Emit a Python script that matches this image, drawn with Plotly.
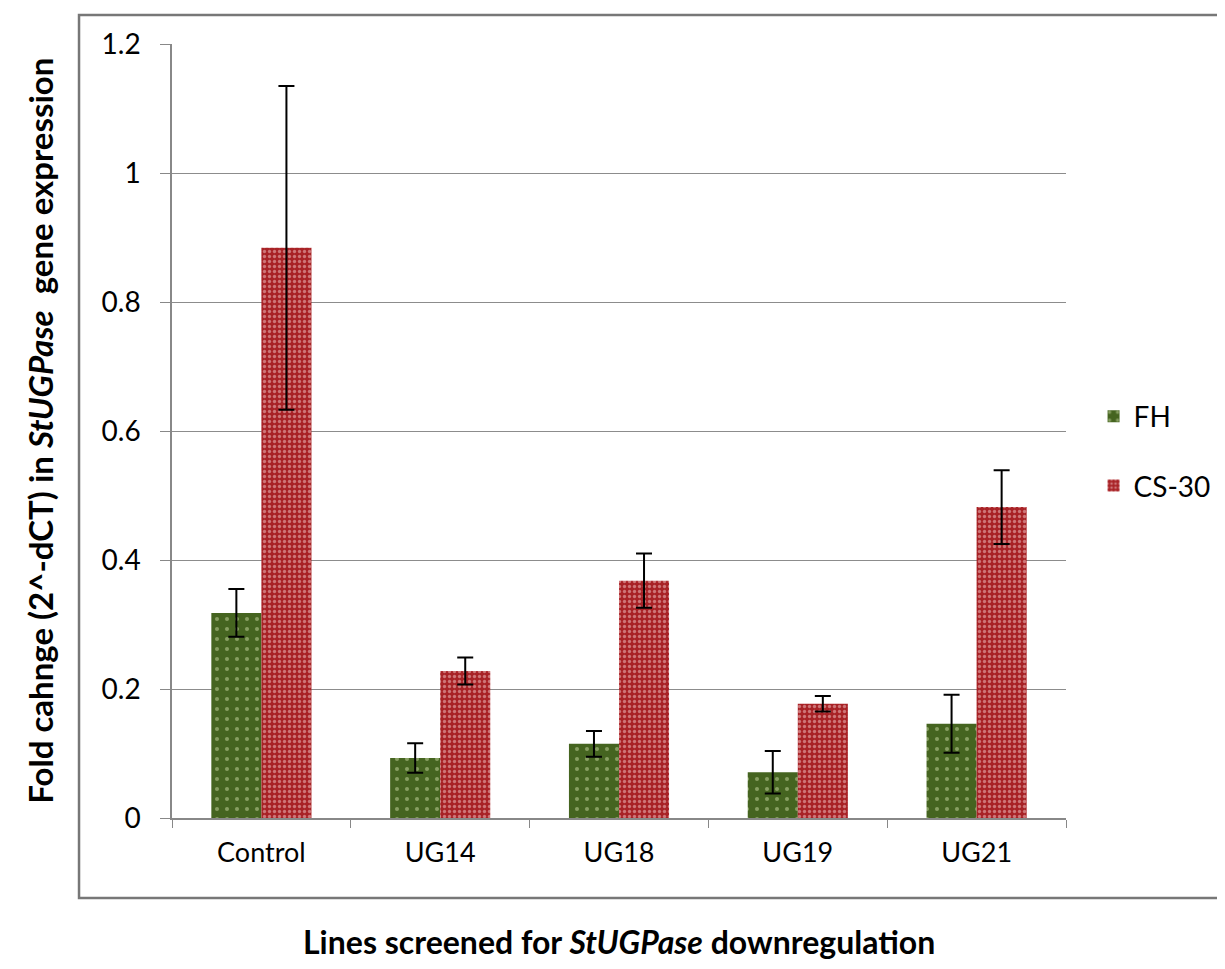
import plotly.graph_objects as go

categories = ["Control", "UG14", "UG18", "UG19", "UG21"]
fh_values = [0.318, 0.093, 0.115, 0.071, 0.146]
fh_errors = [0.037, 0.023, 0.020, 0.033, 0.045]
cs_values = [0.884, 0.228, 0.368, 0.177, 0.482]
cs_errors = [0.251, 0.021, 0.042, 0.012, 0.057]
y_ticks = [0, 0.2, 0.4, 0.6, 0.8, 1, 1.2]

FONT = "Lato, Open Sans, sans-serif"

fig = go.Figure()
fig.add_trace(go.Bar(
    x=categories, y=fh_values, name="FH", legendgroup="fh",
    marker=dict(color="#4a6a22", line=dict(width=0),
                pattern=dict(shape=".", fgcolor="#c9d9a3", bgcolor="#456420",
                             size=10, solidity=0.13)),
    error_y=dict(type="data", array=fh_errors, color="black", thickness=2, width=8),
))
fig.add_trace(go.Bar(
    x=categories, y=cs_values, name="CS-30", legendgroup="cs",
    marker=dict(color="#a82226", line=dict(width=0),
                pattern=dict(shape=".", fgcolor="#f4caca", bgcolor="#a82226",
                             size=5, solidity=0.35)),
    error_y=dict(type="data", array=cs_errors, color="black", thickness=2, width=8),
))

fig.update_layout(
    width=1217, height=961,
    margin=dict(l=164, r=159, t=36, b=151, autoexpand=False),
    paper_bgcolor="white", plot_bgcolor="white",
    barmode="group", bargap=0.44, bargroupgap=0,
    font=dict(family=FONT, size=27, color="black"),
    showlegend=True,
    legend=dict(xref="container", yref="container", x=0.892, y=0.539,
                xanchor="left", yanchor="middle",
                font=dict(size=28), tracegroupgap=30, itemwidth=30,
                bgcolor="rgba(0,0,0,0)"),
    xaxis=dict(showline=True, linecolor="#888888", linewidth=1.5,
               ticks="outside", tickson="boundaries", ticklen=8, tickcolor="#888888",
               tickfont=dict(size=27), showgrid=False, ticklabelstandoff=10),
    yaxis=dict(range=[0, 1.2], tickvals=y_ticks, showline=True, linecolor="#888888",
               linewidth=1.5, ticks="outside", ticklen=10, tickcolor="#888888",
               showgrid=True, gridcolor="#8c8c8c", gridwidth=1.2,
               tickfont=dict(size=28), zeroline=False, ticklabelstandoff=14),
    shapes=[
        dict(type="rect", xref="paper", yref="paper",
             x0=-0.104, x1=1.25, y0=-0.1034, y1=1.0375,
             line=dict(color="#777777", width=2.5), fillcolor="rgba(0,0,0,0)",
             layer="below"),
    ],
    annotations=[
        dict(text="<b>Lines screened for <i>StUGPase</i> downregulation</b>",
             xref="paper", yref="paper", x=0.5, y=-0.16, xanchor="center", yanchor="middle",
             showarrow=False, font=dict(size=32, family=FONT, color="black")),
        dict(text="<b>Fold cahnge (2^-dCT) in <i>StUGPase</i>  gene expression</b>",
             xref="paper", yref="paper", x=-0.148, y=0.5, xanchor="center", yanchor="middle",
             textangle=-90, showarrow=False, font=dict(size=33, family=FONT, color="black")),
    ],
)

fig.write_html("out.html")
